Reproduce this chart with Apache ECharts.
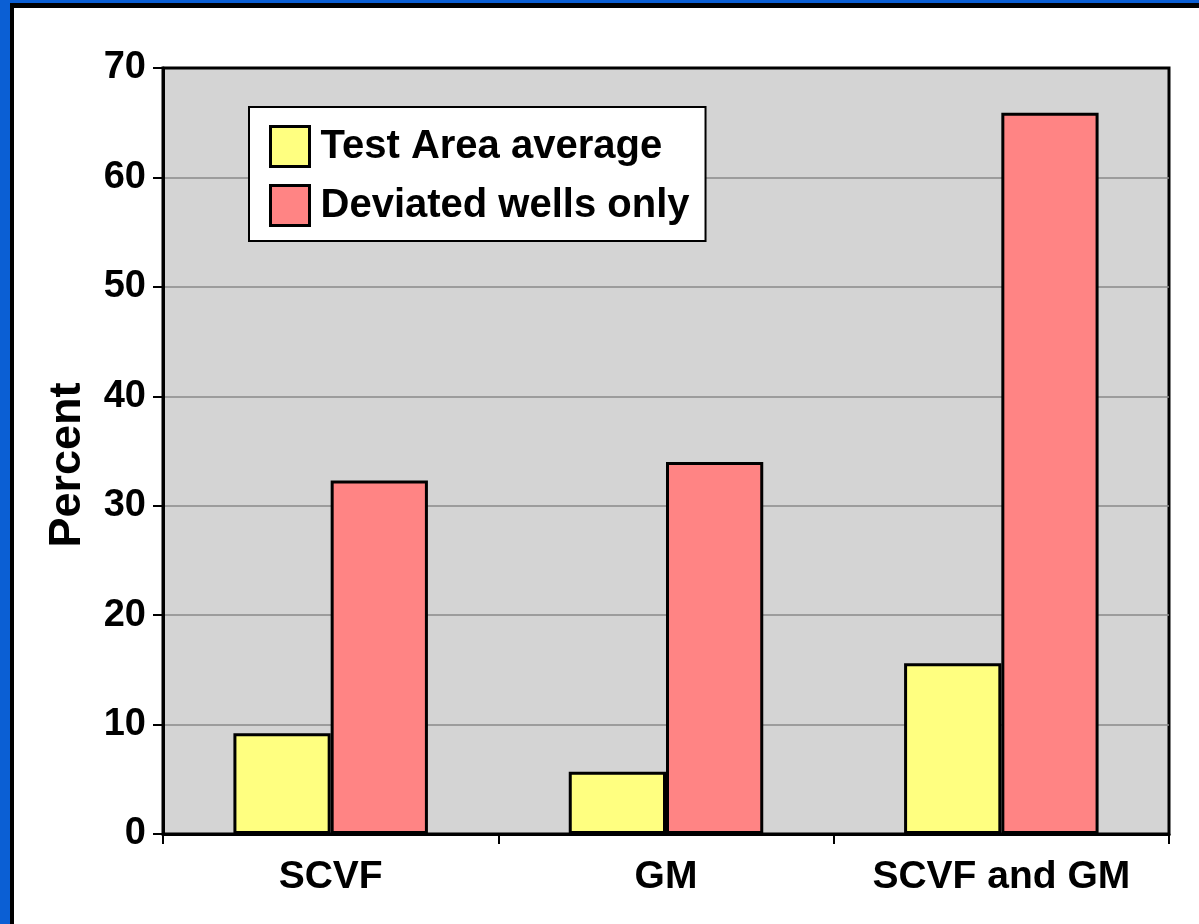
<!DOCTYPE html>
<html>
<head>
<meta charset="utf-8">
<script src="https://cdn.jsdelivr.net/npm/echarts@6/dist/echarts.min.js"></script>
<style>
html,body{margin:0;padding:0;background:#fff;}
#c{width:1199px;height:924px;}
</style>
</head>
<body>
<div id="c"></div>
<script>
const categories = ['SCVF', 'GM', 'SCVF and GM'];
const seriesNames = ['Test Area average', 'Deviated wells only'];
const testAreaAverage = [9.2, 5.7, 15.6];
const deviatedWellsOnly = [32.3, 34.0, 65.9];
const yTicks = [0, 10, 20, 30, 40, 50, 60, 70];

const FONT = '"Liberation Sans", Arial, Helvetica, sans-serif';
const chart = echarts.init(document.getElementById('c'), null, {renderer: 'canvas'});

const barStyle = (color) => ({color: color, borderColor: '#000', borderWidth: 3});

chart.setOption({
  backgroundColor: '#ffffff',
  animation: false,
  graphic: [
    {type: 'rect', left: 0, top: 0, shape: {width: 1199, height: 3}, style: {fill: '#0b5fd4'}, z: 100},
    {type: 'rect', left: 0, top: 0, shape: {width: 10, height: 924}, style: {fill: '#0b5fd4'}, z: 100},
    {type: 'rect', left: 10, top: 3, shape: {width: 1189, height: 5}, style: {fill: '#000'}, z: 100},
    {type: 'rect', left: 10, top: 3, shape: {width: 4, height: 921}, style: {fill: '#000'}, z: 100}
  ],
  grid: {
    left: 163, right: 30, top: 68, bottom: 90,
    show: true, backgroundColor: '#d4d4d4', borderColor: '#000', borderWidth: 3
  },
  legend: {
    orient: 'vertical',
    left: 249, top: 107,
    padding: [18, 16, 14, 20],
    backgroundColor: '#fff',
    borderColor: '#000',
    borderWidth: 2,
    borderRadius: 0,
    icon: 'rect',
    itemWidth: 39,
    itemHeight: 40,
    itemGap: 16,
    itemTextGap: 12,
    data: seriesNames,
    itemStyle: {borderWidth: 3, borderColor: '#000'},
    textStyle: {fontFamily: FONT, fontWeight: 'bold', fontSize: 40, color: '#000', padding: [0, 0, 0, 6]}
  },
  xAxis: {
    type: 'category',
    data: categories,
    axisLine: {show: true, lineStyle: {color: '#000', width: 3}},
    axisTick: {show: true, length: 10, lineStyle: {color: '#000', width: 2}},
    axisLabel: {margin: 24, fontFamily: FONT, fontWeight: 'bold', fontSize: 39, color: '#000'}
  },
  yAxis: {
    type: 'value',
    min: yTicks[0], max: yTicks[yTicks.length - 1], interval: 10,
    name: 'Percent',
    nameLocation: 'middle',
    nameGap: 73,
    nameRotate: 90,
    nameTextStyle: {fontFamily: FONT, fontWeight: 'bold', fontSize: 45, color: '#000', padding: [0, 28, 0, 0]},
    axisLine: {show: true, lineStyle: {color: '#000', width: 3}},
    axisTick: {show: true, length: 10, lineStyle: {color: '#000', width: 2}},
    axisLabel: {margin: 17, fontFamily: FONT, fontWeight: 'bold', fontSize: 38, color: '#000'},
    splitLine: {show: true, showMaxLine: false, showMinLine: false, lineStyle: {color: '#8a8a8a', width: 1.5}}
  },
  series: [
    {
      name: seriesNames[0], type: 'bar', data: testAreaAverage,
      barGap: '0%', barCategoryGap: '42%',
      itemStyle: barStyle('#ffff80')
    },
    {
      name: seriesNames[1], type: 'bar', data: deviatedWellsOnly,
      barGap: '0%', barCategoryGap: '42%',
      itemStyle: barStyle('#ff8484')
    }
  ]
});
</script>
</body>
</html>
